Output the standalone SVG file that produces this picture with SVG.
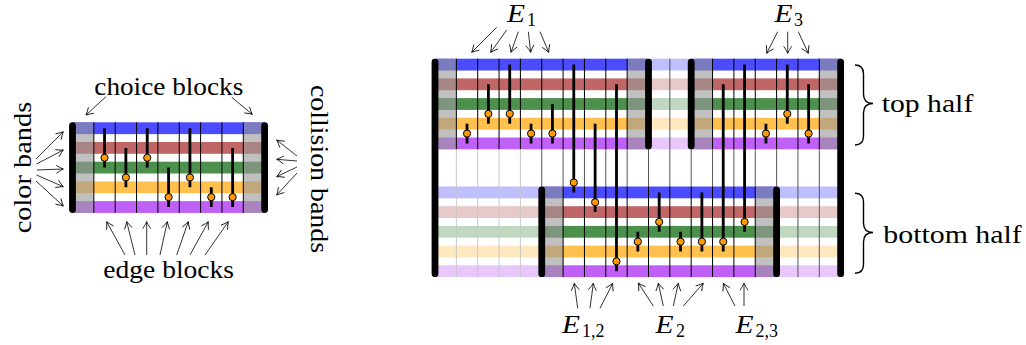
<svg xmlns="http://www.w3.org/2000/svg" xmlns:xlink="http://www.w3.org/1999/xlink" width="1026" height="345" viewBox="0 0 1026 345">
<style>
.bl{fill:#4b4bff}.rd{fill:#c06666}.gr{fill:#4d8f4d}.or{fill:#ffc04d}.pu{fill:#bf60f6}
.mute{fill:#999;opacity:.62}
.pale{opacity:.35}
.bar{stroke:#000;stroke-width:6.8;stroke-linecap:round;fill:none}
.ln{stroke:#000;stroke-width:1;fill:none}
.lg{stroke:#c8c8c8;stroke-width:1;fill:none}
.md{stroke:#555;stroke-width:1;fill:none}
.stk{stroke:#000;stroke-width:2.8;fill:none}
.dot{fill:#ff9a00;stroke:#000;stroke-width:1}
.ar{stroke:#000;stroke-width:0.8;fill:none;marker-end:url(#ah)}
.t{font-family:"Liberation Serif","DejaVu Serif","Times New Roman",serif;font-size:26px;fill:#000}
.m{font-family:"Liberation Serif","DejaVu Serif","Times New Roman",serif;font-style:italic;font-size:26px;fill:#000}
.s{font-family:"Liberation Serif","DejaVu Serif","Times New Roman",serif;font-size:18px;fill:#000}
.br{stroke:#000;stroke-width:1.4;fill:none}
</style>
<defs>
<marker id="ah" viewBox="-8 -5 10 10" refX="0" refY="0" markerWidth="10" markerHeight="10" markerUnits="userSpaceOnUse" orient="auto">
<path d="M-7,-4 Q-2.5,-1 0,0 Q-2.5,1 -7,4" fill="none" stroke="#000" stroke-width="0.8"/>
</marker>
<g id="strip">
<rect class="bl" x="0" y="0" width="1" height="11.8"/>
<rect class="rd" x="0" y="19.7" width="1" height="11.8"/>
<rect class="gr" x="0" y="39.4" width="1" height="11.8"/>
<rect class="or" x="0" y="59.1" width="1" height="11.8"/>
<rect class="pu" x="0" y="78.8" width="1" height="11.8"/>
</g>
</defs>
<rect width="1026" height="345" fill="#fff"/>

<!-- LEFT DIAGRAM -->
<g id="left-block">
<use xlink:href="#strip" href="#strip" transform="translate(72.5,122.3) scale(192.15,1)"/>
<rect class="mute" x="72.5" y="122.3" width="21.35" height="90.6"/>
<rect class="mute" x="243.3" y="122.3" width="21.35" height="90.6"/>
<path class="ln" d="M93.85,122.3V212.9M115.2,122.3V212.9M136.55,122.3V212.9M157.9,122.3V212.9M179.25,122.3V212.9M200.6,122.3V212.9M221.95,122.3V212.9M243.3,122.3V212.9"/>
<path class="bar" d="M72.5,125.7V209.5M264.65,125.7V209.5"/>
<g id="left-edges">
<path class="stk" d="M104.53,128.2V167.6M125.88,147.9V187.3M147.23,128.2V167.6M168.58,167.6V207M189.93,128.2V187.3M211.28,187.3V207M232.63,147.9V207"/>
<circle class="dot" cx="104.53" cy="157.75" r="3.6"/>
<circle class="dot" cx="125.88" cy="177.45" r="3.6"/>
<circle class="dot" cx="147.23" cy="157.75" r="3.6"/>
<circle class="dot" cx="168.58" cy="197.15" r="3.6"/>
<circle class="dot" cx="189.93" cy="177.45" r="3.6"/>
<circle class="dot" cx="211.28" cy="197.15" r="3.6"/>
<circle class="dot" cx="232.63" cy="197.15" r="3.6"/>
</g>
</g>

<g id="left-labels">
<text class="t" x="94.3" y="95" textLength="149" lengthAdjust="spacingAndGlyphs">choice blocks</text>
<text class="t" x="103.3" y="277.5" textLength="130.7" lengthAdjust="spacingAndGlyphs">edge blocks</text>
<text class="t" transform="translate(30.5,233.3) rotate(-90)" x="0" y="0" textLength="131.6" lengthAdjust="spacingAndGlyphs">color bands</text>
<text class="t" transform="translate(310.5,85) rotate(90)" x="0" y="0" textLength="168" lengthAdjust="spacingAndGlyphs">collision bands</text>
</g>

<g id="left-arrows">
<path class="ar" d="M106,96.7L86,115"/>
<path class="ar" d="M231.7,97.3L252.3,114.3"/>
<path class="ar" d="M36,159L63.3,131.7"/>
<path class="ar" d="M36.5,164L63.3,150"/>
<path class="ar" d="M37,170L63.3,169"/>
<path class="ar" d="M36.5,175L63.3,186.7"/>
<path class="ar" d="M36,181L63.3,206"/>
<path class="ar" d="M297,156L276.7,140"/>
<path class="ar" d="M297,161L276.7,159.3"/>
<path class="ar" d="M297,167L276.7,176.7"/>
<path class="ar" d="M297,173L276.7,195"/>
<path class="ar" d="M125,255L106.7,221.7"/>
<path class="ar" d="M135,255L126.7,221.7"/>
<path class="ar" d="M146.7,255L146.7,221.7"/>
<path class="ar" d="M160,255L167.3,221.7"/>
<path class="ar" d="M176.7,255L188.3,221.7"/>
<path class="ar" d="M190,255L208.3,221.7"/>
<path class="ar" d="M205,255L228.3,221.7"/>
</g>

<!-- RIGHT DIAGRAM -->
<g id="top-half">
<use xlink:href="#strip" href="#strip" transform="translate(435,58.7) scale(213.5,1)"/>
<rect class="mute" x="435" y="58.7" width="21.35" height="90.6"/>
<rect class="mute" x="627.15" y="58.7" width="21.35" height="90.6"/>
<use class="pale" xlink:href="#strip" href="#strip" transform="translate(648.5,58.7) scale(42.7,1)"/>
<use xlink:href="#strip" href="#strip" transform="translate(691.2,58.7) scale(149.45,1)"/>
<rect class="mute" x="691.2" y="58.7" width="21.35" height="90.6"/>
<rect class="mute" x="819.3" y="58.7" width="21.35" height="90.6"/>
</g>
<g id="bottom-half">
<use class="pale" xlink:href="#strip" href="#strip" transform="translate(435,186.5) scale(106.75,1)"/>
<use xlink:href="#strip" href="#strip" transform="translate(541.75,186.5) scale(234.85,1)"/>
<rect class="mute" x="541.75" y="186.5" width="21.35" height="90.6"/>
<rect class="mute" x="755.25" y="186.5" width="21.35" height="90.6"/>
<use class="pale" xlink:href="#strip" href="#strip" transform="translate(776.6,186.5) scale(64.05,1)"/>
</g>
<g id="column-lines">
<path class="ln" d="M456.35,58.7V149.3M477.7,58.7V149.3M499.05,58.7V149.3M520.4,58.7V149.3M541.75,58.7V149.3M563.1,58.7V149.3M584.45,58.7V149.3M605.8,58.7V149.3M627.15,58.7V149.3M712.55,58.7V149.3M733.9,58.7V149.3M755.25,58.7V149.3M776.6,58.7V149.3M797.95,58.7V149.3M819.3,58.7V149.3"/>
<path class="md" d="M669.85,58.7V149.3"/>
<path class="lg" d="M456.35,149.3V277.1M477.7,149.3V277.1M499.05,149.3V277.1M520.4,149.3V277.1"/>
<path class="md" d="M541.75,149.3V186.5M563.1,149.3V186.5M584.45,149.3V186.5M605.8,149.3V186.5M627.15,149.3V186.5M648.5,149.3V186.5M669.85,149.3V186.5M691.2,149.3V186.5M712.55,149.3V186.5M733.9,149.3V186.5M755.25,149.3V186.5M776.6,149.3V186.5M797.95,149.3V277.1M819.3,149.3V277.1"/>
<path class="ln" d="M563.1,186.5V277.1M584.45,186.5V277.1M605.8,186.5V277.1M627.15,186.5V277.1M648.5,186.5V277.1M669.85,186.5V277.1M691.2,186.5V277.1M712.55,186.5V277.1M733.9,186.5V277.1M755.25,186.5V277.1"/>
</g>
<g id="bars">
<path class="bar" d="M435,62.1V273.7M840.65,62.1V273.7M648.5,62.1V145.9M691.2,62.1V145.9M541.75,189.9V273.7M776.6,189.9V273.7"/>
</g>
<g id="right-edges">
<path class="stk" d="M467.03,123.7V143.4M488.38,84.3V123.7M509.73,64.6V123.7M531.08,123.7V143.4M552.43,104V143.4M573.78,64.6V192.4M595.13,123.7V212.1M616.48,84.3V271.2M637.83,231.8V251.5M659.18,192.4V231.8M680.53,231.8V251.5M701.88,192.4V251.5M723.23,84.3V251.5M744.58,64.6V231.8M765.93,123.7V143.4M787.28,64.6V123.7M808.63,84.3V143.4"/>
<circle class="dot" cx="467.03" cy="133.55" r="3.6"/>
<circle class="dot" cx="488.38" cy="113.85" r="3.6"/>
<circle class="dot" cx="509.73" cy="113.85" r="3.6"/>
<circle class="dot" cx="531.08" cy="133.55" r="3.6"/>
<circle class="dot" cx="552.43" cy="133.55" r="3.6"/>
<circle class="dot" cx="573.78" cy="182.55" r="3.6"/>
<circle class="dot" cx="595.13" cy="202.25" r="3.6"/>
<circle class="dot" cx="616.48" cy="261.35" r="3.6"/>
<circle class="dot" cx="637.83" cy="241.65" r="3.6"/>
<circle class="dot" cx="659.18" cy="221.95" r="3.6"/>
<circle class="dot" cx="680.53" cy="241.65" r="3.6"/>
<circle class="dot" cx="701.88" cy="241.65" r="3.6"/>
<circle class="dot" cx="723.23" cy="241.65" r="3.6"/>
<circle class="dot" cx="744.58" cy="221.95" r="3.6"/>
<circle class="dot" cx="765.93" cy="133.55" r="3.6"/>
<circle class="dot" cx="787.28" cy="113.85" r="3.6"/>
<circle class="dot" cx="808.63" cy="133.55" r="3.6"/>
</g>

<g id="right-arrows">
<path class="ar" d="M496.7,27.3L471.7,52.3"/>
<path class="ar" d="M506.7,30L490.7,52.3"/>
<path class="ar" d="M518.3,31.7L511,52.3"/>
<path class="ar" d="M528.3,31.7L530.7,52.3"/>
<path class="ar" d="M540,31.7L548.7,52.3"/>
<path class="ar" d="M777.7,31.7L766.7,53.3"/>
<path class="ar" d="M787.7,31.7L787.7,53.3"/>
<path class="ar" d="M798.3,31.7L808.3,53.3"/>
<path class="ar" d="M577.7,308.3L574.3,283.3"/>
<path class="ar" d="M590,308.3L593.3,283.3"/>
<path class="ar" d="M600,308.3L612.7,283.3"/>
<path class="ar" d="M653.3,306L638.3,283"/>
<path class="ar" d="M663.3,306L658.3,283.3"/>
<path class="ar" d="M673.3,306L678.3,283.3"/>
<path class="ar" d="M683.3,306L703.3,283.3"/>
<path class="ar" d="M735,306L723.3,283.3"/>
<path class="ar" d="M744,306L744,283.3"/>
</g>

<g id="right-labels">
<text class="m" x="507" y="21.7" textLength="18" lengthAdjust="spacingAndGlyphs">E</text><text class="s" x="527" y="25.5">1</text>
<text class="m" x="774.5" y="21.7" textLength="18" lengthAdjust="spacingAndGlyphs">E</text><text class="s" x="794" y="25.5">3</text>
<text class="m" x="562" y="333.3" textLength="18" lengthAdjust="spacingAndGlyphs">E</text><text class="s" x="582" y="337.3">1,2</text>
<text class="m" x="655.5" y="333.3" textLength="18" lengthAdjust="spacingAndGlyphs">E</text><text class="s" x="676" y="337.3">2</text>
<text class="m" x="735.5" y="333.3" textLength="18" lengthAdjust="spacingAndGlyphs">E</text><text class="s" x="755.5" y="337.3">2,3</text>
<text class="t" x="881.7" y="112" textLength="91.6" lengthAdjust="spacingAndGlyphs">top half</text>
<text class="t" x="883.3" y="243" textLength="138.4" lengthAdjust="spacingAndGlyphs">bottom half</text>
<path class="br" d="M855,65C861,65 863.5,68 863.5,74V94C863.5,100 866,103.5 873,103.5C866,103.5 863.5,107 863.5,113V136C863.5,142 861,145 855,145"/>
<path class="br" d="M855,193.3C861,193.3 863.5,196.3 863.5,202.3V223C863.5,229 866,232.5 873,232.5C866,232.5 863.5,236 863.5,242V264.3C863.5,270.3 861,273.3 855,273.3"/>
</g>
</svg>
